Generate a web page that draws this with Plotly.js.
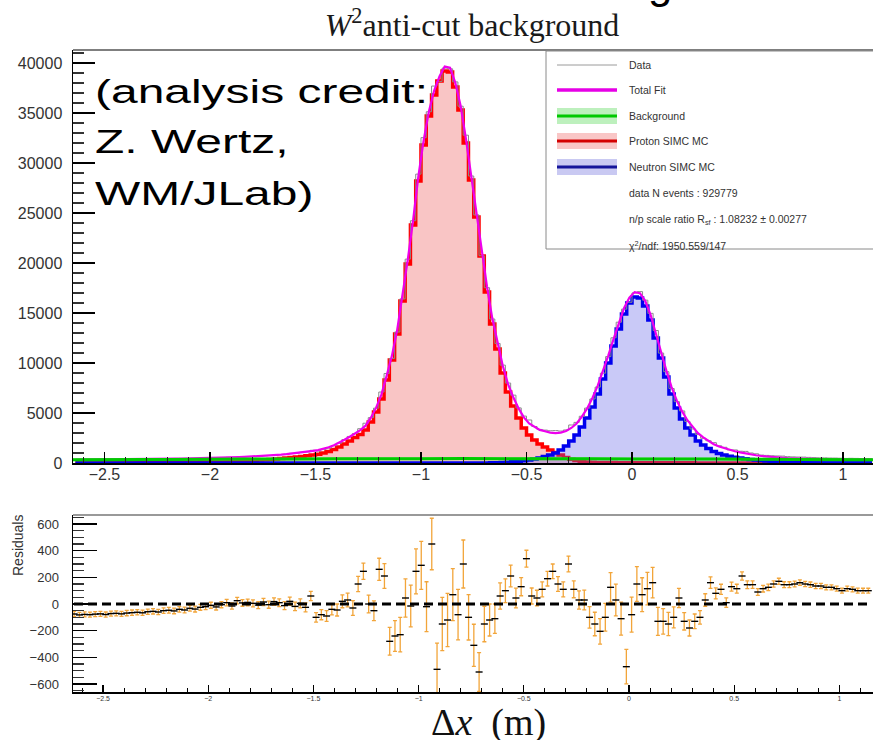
<!DOCTYPE html>
<html>
<head>
<meta charset="utf-8">
<script src="https://cdn.plot.ly/plotly-3.0.1.min.js"></script>
<style>
  html, body { margin: 0; padding: 0; background: #fff; }
  #chart { width: 873px; height: 740px; }
</style>
</head>
<body>
<div id="chart"></div>
<script>
// Binning of the Δx histograms (m)
const BIN_LO = -2.65;
const BIN_W = 0.025;

// Proton SIMC MC (counts per bin)
const proton = [
  20,20,25,25,30,30,35,35,40,40,
  45,45,50,55,55,60,65,70,75,80,
  85,90,100,105,115,125,135,145,160,175,
  190,205,225,245,270,295,325,360,400,440,
  490,540,600,660,730,800,880,1000,1150,1350,
  1600,1900,2200,2550,2850,3300,4100,5100,6400,8300,
  10300,12900,16200,19900,23800,28200,31800,34700,36800,38200,
  39200,39100,37600,35300,32000,28300,24600,20700,17100,13900,
  11400,9000,7100,5700,4500,3500,2800,2300,1900,1600,
  1300,1050,800,560,380,250,160,110,80,60,
  50,45,40,35,32,30,28,26,24,22,
  20,19,18,17,16,15,14,13,12,11,
  10,10,9,9,8,8,7,7,6,6,
  5,5,5,4,4,4,3,3,3,3,
  2,2,2,2,2,2,1,1,1,1,1,1
];

// Neutron SIMC MC (counts per bin)
const neutron = [
  0,0,0,0,0,0,0,0,0,0,
  0,0,0,0,0,0,0,0,0,0,
  0,0,0,0,0,0,0,0,0,0,
  0,0,0,0,0,0,0,0,0,0,
  0,0,0,0,0,0,0,0,0,0,
  0,0,0,0,0,0,0,0,0,0,
  0,0,0,0,0,0,0,0,0,0,
  0,0,0,0,0,0,0,0,10,20,
  30,50,80,120,170,230,300,400,500,650,
  800,1000,1300,1700,2200,2800,3600,4500,5600,6900,
  8400,10000,11700,13400,14900,16000,16600,16500,15700,14300,
  12500,10500,8600,6900,5500,4400,3500,2800,2200,1800,
  1450,1150,950,800,680,580,500,420,350,290,
  240,200,170,140,120,100,85,70,60,50,
  45,40,35,30,28,25,22,20,18,16,15,14
];

// Total fit (counts per bin)
const totalFit = [
  350,351,357,358,364,365,371,372,378,379,
  385,386,392,398,405,412,419,426,433,440,
  447,454,466,473,485,497,510,521,538,555,
  572,589,611,633,660,687,719,756,798,840,
  892,944,1006,1068,1140,1212,1294,1416,1568,1770,
  2022,2324,2626,2978,3280,3732,4534,5535,6836,8737,
  10738,13339,16640,20341,24242,28642,32243,35144,37244,38645,
  39640,39540,38040,35760,32480,28800,25120,21240,17679,14518,
  12067,9726,7895,6574,5463,4562,3961,3590,3309,3178,
  3037,2996,3045,3194,3503,3952,4641,5460,6499,7738,
  9187,10741,12395,14049,15495,16542,17089,16986,16213,14850,
  13086,11123,9260,7597,6234,5161,4278,3585,2982,2569,
  2196,1874,1641,1459,1306,1174,1061,949,856,774,
  701,644,597,554,522,490,467,445,428,411,
  393,386,379,372,368,363,357,353,349,345,342,339
];

// Residuals (data - fit) and their statistical errors
const residual = [
  -75,-82,-78,-80,-76,-74,-79,-72,-70,-74,
  -68,-65,-62,-66,-58,-55,-60,-50,-47,-52,
  -40,-45,-32,-38,-25,-20,-10,-22,-5,10,
  -15,25,8,12,5,-8,15,-5,18,10,
  -12,20,-18,5,-25,60,-100,-80,-90,-40,
  -45,20,30,-30,150,245,0,-50,260,210,
  -280,-240,-230,45,-15,245,290,-20,450,-490,
  -150,-120,70,-80,300,-100,-310,-510,-150,-120,
  -110,60,100,210,45,130,340,60,45,110,
  190,245,150,110,300,110,30,30,-100,-150,
  -205,-100,125,30,-110,-470,-80,150,70,115,
  160,-130,-130,-150,-100,45,-130,-180,-130,-100,
  30,160,80,110,10,130,115,210,145,145,
  90,115,125,150,170,145,145,150,160,150,
  145,135,135,125,125,115,100,115,110,100,100,100
];
const residualErr = [
  19,19,19,19,19,19,19,19,19,19,
  20,20,20,20,20,20,20,21,21,21,
  21,21,22,22,22,22,23,23,23,24,
  24,24,25,25,26,26,27,27,28,29,
  30,31,32,33,34,35,36,38,40,42,
  45,48,51,55,57,61,67,74,83,93,
  104,115,129,143,156,169,180,187,193,197,
  199,199,195,189,180,170,158,146,133,120,
  110,99,89,81,74,68,63,60,58,56,
  55,55,55,56,59,63,68,74,81,88,
  96,104,111,119,124,129,131,130,127,122,
  114,105,96,87,79,72,65,60,55,51,
  47,43,41,38,36,34,33,31,29,28,
  26,25,24,24,23,22,22,21,21,20,
  20,20,19,19,19,19,19,19,19,19,18,18
];

// Background fit curve and its uncertainty band
const bgX    = [-2.65, -2.3, -2.0, -1.6, -1.2, -0.8, -0.4, 0.0, 0.4, 0.8, 1.15];
const bgY    = [330, 350, 372, 402, 430, 440, 428, 412, 388, 360, 326];
const bgBand = [160, 160, 160, 160, 160, 160, 160, 160, 160, 160, 160];

// Axis tick labels
const xTickVals  = [-2.5, -2, -1.5, -1, -0.5, 0, 0.5, 1];
const xTickText  = ['\u22122.5', '\u22122', '\u22121.5', '\u22121', '\u22120.5', '0', '0.5', '1'];
const yTickVals  = [0, 5000, 10000, 15000, 20000, 25000, 30000, 35000, 40000];
const yTickText  = ['0', '5000', '10000', '15000', '20000', '25000', '30000', '35000', '40000'];
const rTickVals  = [-600, -400, -200, 0, 200, 400, 600];
const rTickText  = ['\u2212600', '\u2212400', '\u2212200', '0', '200', '400', '600'];

// Legend entries and fit summary
const seriesNames = ['Data', 'Total Fit', 'Background', 'Proton SIMC MC', 'Neutron SIMC MC'];
const fitSummary = [
  'data N events : 929779',
  'n/p scale ratio R<sub>sf</sub> : 1.08232 \u00b1 0.00277',
  '\u03c7<sup>2</sup>/ndf: 1950.559/147'
];
const creditLines = ['(analysis credit:', 'Z. Wertz,', 'WM/JLab)'];

// ---------------------------------------------------------------------------
const W = 873, H = 740;
const px = x => x / W;          // pixel column -> paper x
const py = y => 1 - y / H;      // pixel row    -> paper y

const centers = proton.map((_, i) => BIN_LO + BIN_W * (i + 0.5));
const dataCounts = totalFit.map((v, i) => v + residual[i]);
const bgUpper = bgY.map((v, i) => v + bgBand[i]);
const bgLower = bgY.map((v, i) => v - bgBand[i]);

const SANS = 'Liberation Sans, Arial, sans-serif';
const SERIF = 'Liberation Serif, Times New Roman, serif';

const traces = [
  { x: centers, y: proton, type: 'scatter', mode: 'lines', name: seriesNames[3],
    line: { color: '#ff0000', width: 3.5, shape: 'hvh' },
    fill: 'tozeroy', fillcolor: 'rgba(240,110,110,0.40)', xaxis: 'x', yaxis: 'y' },
  { x: centers, y: neutron, type: 'scatter', mode: 'lines', name: seriesNames[4],
    line: { color: '#0000ee', width: 3.5, shape: 'hvh' },
    fill: 'tozeroy', fillcolor: 'rgba(90,90,230,0.33)', xaxis: 'x', yaxis: 'y' },
  { x: centers, y: dataCounts, type: 'scatter', mode: 'lines', name: seriesNames[0],
    line: { color: '#8a8a8a', width: 1, shape: 'hvh' }, xaxis: 'x', yaxis: 'y' },
  { x: centers, y: totalFit, type: 'scatter', mode: 'lines', name: seriesNames[1],
    line: { color: '#ee00ee', width: 2.2 }, xaxis: 'x', yaxis: 'y' },
  { x: bgX, y: bgLower, type: 'scatter', mode: 'lines', line: { width: 0, shape: 'spline' },
    showlegend: false, xaxis: 'x', yaxis: 'y' },
  { x: bgX, y: bgUpper, type: 'scatter', mode: 'lines', line: { width: 0, shape: 'spline' },
    fill: 'tonexty', fillcolor: 'rgba(120,230,120,0.45)', showlegend: false, xaxis: 'x', yaxis: 'y' },
  { x: bgX, y: bgY, type: 'scatter', mode: 'lines', name: seriesNames[2],
    line: { color: '#00cc00', width: 3, shape: 'spline' }, xaxis: 'x', yaxis: 'y' },
  { x: centers, y: residual, type: 'scatter', mode: 'markers', name: 'Residuals',
    marker: { symbol: 'line-ew', size: 5, color: '#000', line: { color: '#000', width: 1.4 } },
    error_y: { type: 'data', array: residualErr, visible: true, color: '#f2a53a', thickness: 1.3, width: 2 },
    xaxis: 'x2', yaxis: 'y2' }
];

const shapes = [
  // frame tops
  { type: 'line', xref: 'paper', yref: 'paper', x0: px(73), x1: 1, y0: py(50), y1: py(50),
    line: { color: '#555', width: 1.5 }, layer: 'above' },
  { type: 'line', xref: 'paper', yref: 'paper', x0: px(73), x1: 1, y0: py(515), y1: py(515),
    line: { color: '#777', width: 1.5 }, layer: 'above' },
  // zero reference of the residual panel
  { type: 'line', xref: 'paper', yref: 'y2', x0: px(74), x1: px(868), y0: 0, y1: 0,
    line: { color: '#000', width: 3, dash: '9px,5px' }, layer: 'above' },
  // legend box
  { type: 'rect', xref: 'paper', yref: 'paper', x0: px(546), x1: px(885), y0: py(51), y1: py(249),
    line: { color: '#8a8a8a', width: 1 }, fillcolor: '#fff', layer: 'above' }
];

const rowY = [65, 90, 116, 141, 167, 193, 220, 245];
const symX0 = px(557), symX1 = px(617);
const legendSym = [
  { band: null,      line: '#9a9a9a', w: 1 },
  { band: null,      line: '#e600e6', w: 3.5 },
  { band: '#bdf0bd', line: '#00c800', w: 3 },
  { band: '#f9c6c6', line: '#d40000', w: 3 },
  { band: '#c9c9f2', line: '#14149a', w: 3 }
];
legendSym.forEach((s, k) => {
  const yc = rowY[k];
  if (s.band) {
    shapes.push({ type: 'rect', xref: 'paper', yref: 'paper', x0: symX0, x1: symX1,
      y0: py(yc + 8), y1: py(yc - 8), line: { width: 0 }, fillcolor: s.band, layer: 'above' });
  }
  shapes.push({ type: 'line', xref: 'paper', yref: 'paper', x0: symX0, x1: symX1,
    y0: py(yc), y1: py(yc), line: { color: s.line, width: s.w }, layer: 'above' });
});

const annotations = [];
const legendTexts = seriesNames.concat(fitSummary);
legendTexts.forEach((t, k) => {
  annotations.push({ xref: 'paper', yref: 'paper', x: px(627), y: py(rowY[k]),
    xanchor: 'left', yanchor: 'middle', showarrow: false, text: t,
    font: { family: SANS, size: 10.5, color: '#333' } });
});

// analysis credit
const creditY = [91, 141, 193];
creditLines.forEach((t, k) => {
  annotations.push({ xref: 'paper', yref: 'paper', x: px(93), y: py(creditY[k]),
    xanchor: 'left', yanchor: 'middle', showarrow: false, text: t,
    font: { family: SANS, size: 34, color: '#000' } });
});

// slide headline descender above the plot
annotations.push({ xref: 'paper', yref: 'paper', x: px(660), y: py(-18), xanchor: 'center',
  yanchor: 'middle', showarrow: false, text: 'g', font: { family: SANS, size: 44, color: '#000' } });

// residual axis title
annotations.push({ xref: 'paper', yref: 'paper', x: px(18), y: py(546), xanchor: 'center',
  yanchor: 'middle', showarrow: false, text: 'Residuals', textangle: -90,
  font: { family: SANS, size: 14, color: '#333' } });

// x-axis title
annotations.push({ xref: 'paper', yref: 'paper', x: px(488), y: py(722), xanchor: 'center',
  yanchor: 'middle', showarrow: false, text: '\u0394<i>x</i>\u2002(m)',
  font: { family: SERIF, size: 38, color: '#111' } });

const layout = {
  width: W, height: H,
  margin: { l: 0, r: 0, t: 0, b: 0 },
  paper_bgcolor: '#fff', plot_bgcolor: '#fff',
  showlegend: false,
  title: { text: '<i>W</i><sup>2</sup>anti-cut background', x: px(472), xanchor: 'center',
    y: py(25), yanchor: 'middle', font: { family: SERIF, size: 32, color: '#1a1a1a' } },
  xaxis: {
    domain: [px(73), 1], range: [-2.649, 1.142], anchor: 'y',
    showline: true, linecolor: '#000', linewidth: 1.5, mirror: false,
    ticks: 'inside', ticklen: 11, tickwidth: 1.2, tickcolor: '#000',
    tickmode: 'array', tickvals: xTickVals, ticktext: xTickText,
    minor: { ticks: 'inside', ticklen: 6, dtick: 0.1, tick0: 0, tickwidth: 1, tickcolor: '#222' },
    tickfont: { family: SANS, size: 16, color: '#333' }, ticklabelstandoff: -4,
    showgrid: false, zeroline: false
  },
  yaxis: {
    domain: [py(463), py(50)], range: [0, 41300], anchor: 'x',
    showline: true, linecolor: '#000', linewidth: 1.5,
    ticks: 'inside', ticklen: 22, tickwidth: 1.4, tickcolor: '#000',
    tickmode: 'array', tickvals: yTickVals, ticktext: yTickText,
    minor: { ticks: 'inside', ticklen: 11, dtick: 1000, tick0: 0, tickwidth: 1.2, tickcolor: '#333' },
    tickfont: { family: SANS, size: 16, color: '#333' }, ticklabelstandoff: 6,
    showgrid: false, zeroline: false
  },
  xaxis2: {
    domain: [px(73), 1], range: [-2.643, 1.160], anchor: 'y2',
    showline: true, linecolor: '#000', linewidth: 2,
    ticks: 'inside', ticklen: 7, tickwidth: 1.2, tickcolor: '#000',
    tickmode: 'array', tickvals: xTickVals, ticktext: xTickText,
    minor: { ticks: 'inside', ticklen: 4, dtick: 0.1, tick0: 0, tickwidth: 1, tickcolor: '#000' },
    tickfont: { family: SANS, size: 7, color: '#333' }, ticklabelstandoff: -1,
    showgrid: false, zeroline: false
  },
  yaxis2: {
    domain: [py(692), py(515)], range: [-660, 667.5], anchor: 'x2',
    showline: true, linecolor: '#000', linewidth: 1.5,
    ticks: 'inside', ticklen: 24, tickwidth: 1.4, tickcolor: '#000',
    tickmode: 'array', tickvals: rTickVals, ticktext: rTickText,
    minor: { ticks: 'inside', ticklen: 11, dtick: 50, tick0: 0, tickwidth: 1.2, tickcolor: '#333' },
    tickfont: { family: SANS, size: 13, color: '#333' }, ticklabelstandoff: 10,
    showgrid: false, zeroline: false
  },
  shapes: shapes,
  annotations: annotations
};

Plotly.newPlot('chart', traces, layout, { displayModeBar: false, staticPlot: true }).then(gd => {
  // the credit lines are set in a horizontally widened face
  gd.querySelectorAll('.annotation-text').forEach(t => {
    if (creditLines.includes(t.textContent)) {
      t.style.transformBox = 'fill-box';
      t.style.transformOrigin = 'left center';
      t.style.transform = 'scaleX(1.41)';
    }
  });
});
</script>
</body>
</html>
